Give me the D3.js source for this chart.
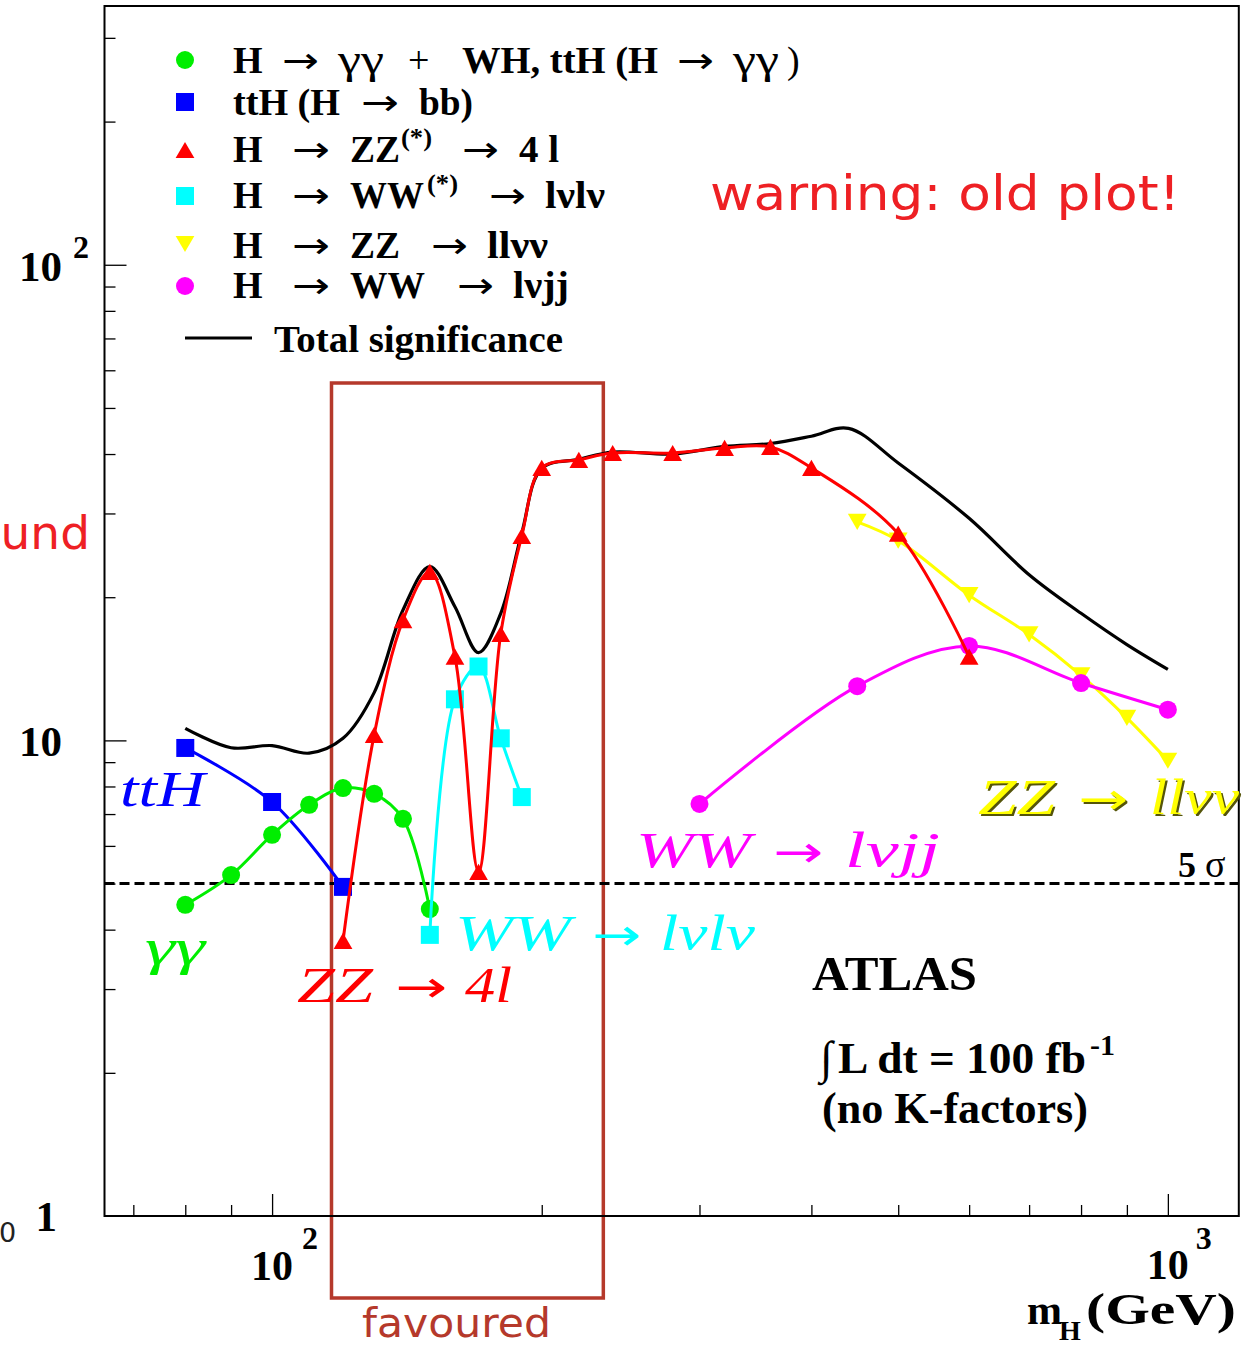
<!DOCTYPE html>
<html><head><meta charset="utf-8">
<script src="https://cdn.jsdelivr.net/npm/d3@7"></script>
<style>body{margin:0;background:#fff} svg{display:block}</style>
</head><body>
<svg id="c" width="1256" height="1346"></svg>
<script>
// ---- data (mH in GeV, significance) ----
const massTTH = [80, 100, 120];
const sigTTH = [9.64, 7.42, 4.92];
const massGG = [80, 90, 100, 110, 120, 130, 140, 150];
const sigGG = [4.51, 5.21, 6.33, 7.32, 7.94, 7.72, 6.84, 4.42];
const massZZ4l = [120, 130, 140, 150, 160, 170, 180, 190, 200, 220, 240, 280, 320, 360, 400, 500, 600];
const sigZZ4l = [3.79, 10.27, 17.9, 22.6, 15.0, 5.29, 16.75, 26.9, 37.4, 38.9, 40.2, 40.2, 41.2, 41.4, 37.4, 27.2, 15.0];
const massWWlvlv = [150, 160, 170, 180, 190];
const sigWWlvlv = [3.9, 12.2, 14.3, 10.1, 7.6];
const massZZllvv = [450, 500, 600, 700, 800, 900, 1000];
const sigZZllvv = [28.8, 26.3, 20.2, 16.7, 13.7, 11.15, 9.06];
const massWWlvjj = [300, 450, 600, 800, 1000];
const sigWWlvjj = [7.35, 13.0, 15.8, 13.2, 11.6];
const massTotal = [80, 90, 100, 110, 120, 130, 140, 150, 160, 170, 180, 190, 200, 220, 240, 280, 320, 360, 400, 440, 500, 600, 700, 800, 900, 1000];
const sigTotal = [10.6, 9.65, 9.75, 9.4, 10.1, 12.6, 18.8, 23.2, 19.1, 15.3, 18.5, 27.3, 37.3, 39.0, 40.4, 40.0, 41.5, 42.1, 43.6, 45.3, 38.3, 29.3, 22.3, 18.5, 15.9, 14.1];
const fiveSigma = 5;
const favouredRange = [116.5, 234.3];
const xMajorTicks = [100, 1000];
const xMinorTicks = [70, 80, 90, 200, 300, 400, 500, 600, 700, 800, 900];
const yMajorTicks = [1, 10, 100];
const yMinorTicks = [2, 3, 4, 5, 6, 7, 8, 9, 20, 30, 40, 50, 60, 70, 80, 90, 200, 300];

const svg = d3.select("#c");
const x = d3.scaleLog().domain([65, 1200]).range([104.5, 1238.8]);
const y = d3.scaleLog().domain([1, 350]).range([1216, 6]);

const SERIF = "'Liberation Serif','Times New Roman',serif";
const SANS = "'DejaVu Sans',sans-serif";

// favoured box (behind)
svg.append("rect")
  .attr("x", x(favouredRange[0])).attr("y", 383)
  .attr("width", x(favouredRange[1]) - x(favouredRange[0])).attr("height", 915)
  .attr("fill", "none").attr("stroke", "#b5392b").attr("stroke-width", 3.5);

// axes ticks
function gx(vals, len) {
  svg.append("g").attr("transform", "translate(0,1216)")
    .call(d3.axisBottom(x).tickValues(vals).tickSizeInner(-len).tickSizeOuter(0).tickFormat(""))
    .call(g => { g.select(".domain").remove(); g.selectAll("line").attr("stroke", "#000").attr("stroke-width", 1.3); });
}
function gy(vals, len) {
  svg.append("g").attr("transform", "translate(104.5,0)")
    .call(d3.axisLeft(y).tickValues(vals).tickSizeInner(-len).tickSizeOuter(0).tickFormat(""))
    .call(g => { g.select(".domain").remove(); g.selectAll("line").attr("stroke", "#000").attr("stroke-width", 1.3); });
}
gx(xMajorTicks, 22); gx(xMinorTicks, 11);
gy(yMajorTicks.slice(1), 22); gy(yMinorTicks, 11);

// 5 sigma dashed line
svg.append("line").attr("x1", 104.5).attr("x2", 1238.8).attr("y1", y(fiveSigma)).attr("y2", y(fiveSigma))
  .attr("stroke", "#000").attr("stroke-width", 3).attr("stroke-dasharray", "10,5");

// symbols
const triUp = { draw(ctx, size) { const s = Math.sqrt(size); ctx.moveTo(0, -s * 0.45); ctx.lineTo(s * 0.52, s * 0.45); ctx.lineTo(-s * 0.52, s * 0.45); ctx.closePath(); } };
const triDown = { draw(ctx, size) { const s = Math.sqrt(size); ctx.moveTo(0, s * 0.45); ctx.lineTo(s * 0.52, -s * 0.45); ctx.lineTo(-s * 0.52, -s * 0.45); ctx.closePath(); } };
const shapes = {
  circle: d3.symbol().type(d3.symbolCircle).size(Math.PI * 81)(),
  square: d3.symbol().type(d3.symbolSquare).size(18 * 18)(),
  up: d3.symbol().type(triUp).size(18 * 18)(),
  down: d3.symbol().type(triDown).size(18 * 18)()
};

const line = d3.line().x(d => x(d[0])).y(d => y(d[1])).curve(d3.curveCatmullRom.alpha(0.5));

const series = [
  { m: massTTH, s: sigTTH, color: "#0000ff", shape: "square" },
  { m: massGG, s: sigGG, color: "#00ee00", shape: "circle" },
  { m: massZZllvv, s: sigZZllvv, color: "#ffff00", shape: "down" },
  { m: massWWlvjj, s: sigWWlvjj, color: "#ff00ff", shape: "circle" },
  { m: massWWlvlv, s: sigWWlvlv, color: "#00ffff", shape: "square" },
  { m: massZZ4l, s: sigZZ4l, color: "#ff0000", shape: "up" }
];

// total line
svg.append("path").datum(massTotal.map((m, i) => [m, sigTotal[i]]))
  .attr("d", line).attr("fill", "none").attr("stroke", "#000").attr("stroke-width", 3.2);

series.forEach(sr => {
  const pts = sr.m.map((m, i) => [m, sr.s[i]]);
  svg.append("path").datum(pts).attr("d", line).attr("fill", "none")
    .attr("stroke", sr.color).attr("stroke-width", 3);
  svg.append("g").selectAll("path").data(pts).join("path")
    .attr("d", shapes[sr.shape]).attr("fill", sr.color)
    .attr("transform", d => `translate(${x(d[0])},${y(d[1])})`);
});

// frame
svg.append("rect").attr("x", 104.5).attr("y", 6).attr("width", 1238.8 - 104.5).attr("height", 1210)
  .attr("fill", "none").attr("stroke", "#000").attr("stroke-width", 2);

// generic text helper
function txt(s, xx, yy, o = {}) {
  const t = svg.append("text").attr("x", xx).attr("y", yy).text(s)
    .attr("font-family", o.family || SERIF).attr("font-size", o.size || 38)
    .attr("font-weight", o.weight || "bold").attr("fill", o.color || "#000");
  if (o.style) t.attr("font-style", o.style);
  if (o.anchor) t.attr("text-anchor", o.anchor);
  if (o.len) t.attr("textLength", o.len).attr("lengthAdjust", "spacingAndGlyphs");
  if (o.ls) t.attr("letter-spacing", o.ls);
  return t;
}
function arrow(xx, yy, w, o = {}) {
  return txt("→", xx, yy, { family: SANS, weight: "normal", size: o.size || 36, len: w, color: o.color });
}

// axis labels
txt("10", 62, y(100) + 16, { size: 43, anchor: "end" });
txt("2", 73, y(100) - 7, { size: 32 });
txt("10", 62, y(10) + 16, { size: 43, anchor: "end" });
txt("1", 57, y(1) + 15, { size: 43, anchor: "end" });
txt("0", -1, 1242, { size: 27, weight: "normal", family: SANS, color: "#222" });
txt("10", x(100), 1280, { size: 42, anchor: "middle" });
txt("2", x(100) + 30, 1249, { size: 32 });
txt("10", x(1000), 1279, { size: 42, anchor: "middle" });
txt("3", x(1000) + 28, 1249, { size: 32 });
txt("m", 1027, 1324, { size: 42 });
txt("H", 1059, 1340, { size: 28 });
txt("(GeV)", 1086, 1324, { size: 44, len: 150 });

// legend
const legendRows = [
  { shape: "circle", color: "#00ee00", cy: 60 },
  { shape: "square", color: "#0000ff", cy: 102 },
  { shape: "up", color: "#ff0000", cy: 150 },
  { shape: "square", color: "#00ffff", cy: 196 },
  { shape: "down", color: "#ffff00", cy: 244 },
  { shape: "circle", color: "#ff00ff", cy: 286 }
];
legendRows.forEach(r => svg.append("path").attr("d", shapes[r.shape]).attr("fill", r.color)
  .attr("transform", `translate(185,${r.cy})`));
svg.append("line").attr("x1", 185).attr("x2", 252).attr("y1", 338).attr("y2", 338)
  .attr("stroke", "#000").attr("stroke-width", 3.2);

const G = { weight: "normal", size: 40, len: 46 };
// row 1
txt("H", 233, 73); arrow(282, 73, 37); txt("γγ", 338, 73, G);
txt("+", 408, 73, { weight: "normal", size: 38 });
txt("WH, ttH (H", 462, 73, { len: 196 });
arrow(677, 73, 37); txt("γγ", 733, 73, G); txt(")", 787, 73, { weight: "normal" });
// row 2
txt("ttH (H", 233, 115, { len: 107 }); arrow(361, 115, 38); txt("bb)", 419, 115, { len: 54 });
// row 3
txt("H", 233, 162); arrow(292, 162, 38); txt("ZZ", 350, 162, { len: 50 });
txt("(*)", 401, 146, { size: 26, len: 31 }); arrow(462, 162, 37); txt("4 l", 519, 162, { len: 40 });
// row 4
txt("H", 233, 208); arrow(292, 208, 38); txt("WW", 350, 208, { len: 74 });
txt("(*)", 427, 192, { size: 26, len: 31 }); arrow(489, 208, 37); txt("lνlν", 545, 208, { len: 60 });
// row 5
txt("H", 233, 258); arrow(292, 258, 38); txt("ZZ", 350, 258, { len: 50 });
arrow(431, 258, 37); txt("llνν", 487, 258, { len: 61 });
// row 6
txt("H", 233, 298); arrow(292, 298, 38); txt("WW", 350, 298, { len: 75 });
arrow(457, 298, 37); txt("lνjj", 513, 298, { len: 56 });
// row 7
txt("Total significance", 274, 352, { len: 289 });

// warning and cut-off texts
txt("warning: old plot!", 710, 210, { family: SANS, weight: "normal", size: 48, color: "#ee2024", len: 470 });
txt("und", 90, 549, { family: SANS, weight: "normal", size: 47, color: "#ee2024", anchor: "end" });
txt("favoured", 362, 1337, { family: SANS, weight: "normal", size: 40, color: "#b5392b", len: 189 });

// channel labels (math italic)
const MI = { weight: "normal", style: "italic", size: 50 };
txt("ttH", 120, 806, { ...MI, color: "#0000ff", len: 85 });
txt("γγ", 145, 964, { ...MI, color: "#00ee00", len: 60 });
function mathLabel(a, b, xa, wa, xr, wr, xb, wb, yy, color, shadow) {
  if (shadow) {
    txt(a, xa + 2, yy + 2, { ...MI, color: shadow, len: wa });
    arrow(xr + 2, yy + 2, wr, { size: 44, color: shadow });
    txt(b, xb + 2, yy + 2, { ...MI, color: shadow, len: wb });
  }
  txt(a, xa, yy, { ...MI, color, len: wa });
  arrow(xr, yy, wr, { size: 44, color });
  txt(b, xb, yy, { ...MI, color, len: wb });
}
mathLabel("ZZ", "4l", 297, 76, 395, 52, 465, 47, 1002, "#ff0000");
mathLabel("WW", "lνlν", 455, 116, 592, 49, 660, 95, 950, "#00ffff");
mathLabel("WW", "lνjj", 636, 115, 773, 50, 845, 95, 867, "#ff00ff");
mathLabel("ZZ", "llνν", 978, 77, 1078, 50, 1150, 89, 814, "#ffff00", "#55550a");
txt("5", 1178, 877, { size: 36 });
txt("σ", 1205, 877, { size: 38, weight: "normal" });

// ATLAS block
txt("ATLAS", 812, 990, { size: 49, len: 165 });
txt("∫", 820, 1073, { size: 46, weight: "normal" });
txt("L dt = 100 fb", 838, 1073, { size: 44, len: 248 });
txt("-1", 1090, 1055, { size: 30 });
txt("(no K-factors)", 822, 1123, { size: 44, len: 266 });
</script>
</body></html>
